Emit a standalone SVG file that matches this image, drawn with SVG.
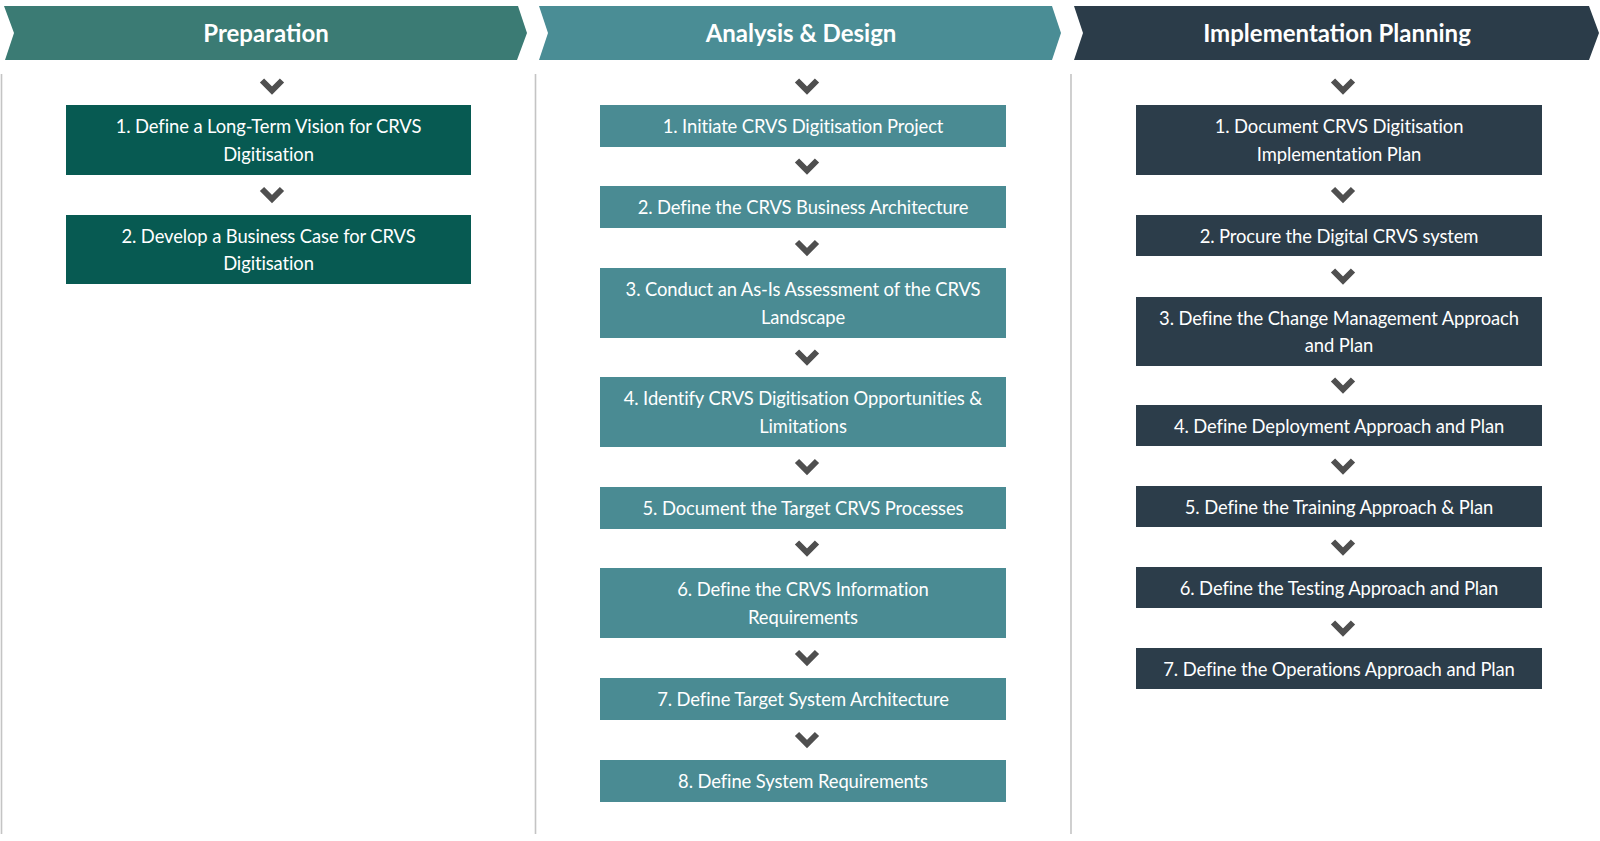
<svg xmlns="http://www.w3.org/2000/svg" width="1600" height="841" viewBox="0 0 1600 841">
<style>
.hd{font-family:Lato,"Open Sans","Noto Sans",sans-serif;font-weight:700;font-size:24px;fill:#ffffff;text-anchor:middle}
.tx{font-family:Lato,"Open Sans","Noto Sans",sans-serif;font-size:18.4px;letter-spacing:-0.1px;fill:#ffffff;text-anchor:middle}
.p{fill:#075a52}
.a{fill:#4a8b93}
.i{fill:#2c3d4a}
.vl{stroke:#c4c4c4;stroke-width:1.6;fill:none}
</style>
<defs>
<polyline id="chev" points="-10,-5 0,5 10,-5" fill="none" stroke="#4f4f4f" stroke-width="6" stroke-linejoin="miter"/>
</defs>
<rect width="1600" height="841" fill="#ffffff"/>

<g id="column-lines">
<line class="vl" x1="1.5" y1="74" x2="1.5" y2="834"/>
<line class="vl" x1="535.5" y1="74" x2="535.5" y2="834"/>
<line class="vl" x1="1071" y1="74" x2="1071" y2="834"/>
</g>

<g id="header-preparation">
<polygon points="4,6 518,6 527,33 517,60 5,60 14,33" fill="#3b7b74"/>
<text class="hd" x="266" y="42">Preparation</text>
</g>
<g id="header-analysis">
<polygon points="539,6 1052,6 1061,33 1052,60 539,60 548,33" fill="#4a8d95"/>
<text class="hd" x="801" y="42">Analysis &amp; Design</text>
</g>
<g id="header-implementation">
<polygon points="1074,6 1589,6 1599,33 1589,60 1074,60 1083,33" fill="#2b3c49"/>
<text class="hd" x="1337" y="42">Implementation Planning</text>
</g>

<g id="connectors">
<use href="#chev" x="272" y="85.5"/>
<use href="#chev" x="272" y="194"/>

<use href="#chev" x="807" y="85.5"/>
<use href="#chev" x="807" y="165.5"/>
<use href="#chev" x="807" y="247"/>
<use href="#chev" x="807" y="356.5"/>
<use href="#chev" x="807" y="466"/>
<use href="#chev" x="807" y="547.5"/>
<use href="#chev" x="807" y="657"/>
<use href="#chev" x="807" y="739"/>

<use href="#chev" x="1343" y="85.5"/>
<use href="#chev" x="1343" y="194"/>
<use href="#chev" x="1343" y="275.5"/>
<use href="#chev" x="1343" y="384.5"/>
<use href="#chev" x="1343" y="465.5"/>
<use href="#chev" x="1343" y="546.5"/>
<use href="#chev" x="1343" y="627.5"/>
</g>

<g id="prep-1"><rect class="p" x="66" y="105" width="405" height="70"/>
<text class="tx" x="268.5" y="133.1">1. Define a Long-Term Vision for CRVS</text>
<text class="tx" x="268.5" y="160.6">Digitisation</text></g>
<g id="prep-2"><rect class="p" x="66" y="215" width="405" height="69"/>
<text class="tx" x="268.5" y="242.6">2. Develop a Business Case for CRVS</text>
<text class="tx" x="268.5" y="270.1">Digitisation</text></g>

<g id="ad-1"><rect class="a" x="600" y="105" width="406" height="42"/>
<text class="tx" x="803" y="133">1. Initiate CRVS Digitisation Project</text></g>
<g id="ad-2"><rect class="a" x="600" y="186" width="406" height="42"/>
<text class="tx" x="803" y="214">2. Define the CRVS Business Architecture</text></g>
<g id="ad-3"><rect class="a" x="600" y="268" width="406" height="70"/>
<text class="tx" x="803" y="296.1">3. Conduct an As-Is Assessment of the CRVS</text>
<text class="tx" x="803" y="323.6">Landscape</text></g>
<g id="ad-4"><rect class="a" x="600" y="377" width="406" height="70"/>
<text class="tx" x="803" y="405.1">4. Identify CRVS Digitisation Opportunities &amp;</text>
<text class="tx" x="803" y="432.6">Limitations</text></g>
<g id="ad-5"><rect class="a" x="600" y="487" width="406" height="42"/>
<text class="tx" x="803" y="515">5. Document the Target CRVS Processes</text></g>
<g id="ad-6"><rect class="a" x="600" y="568" width="406" height="70"/>
<text class="tx" x="803" y="596.1">6. Define the CRVS Information</text>
<text class="tx" x="803" y="623.6">Requirements</text></g>
<g id="ad-7"><rect class="a" x="600" y="678" width="406" height="42"/>
<text class="tx" x="803" y="706">7. Define Target System Architecture</text></g>
<g id="ad-8"><rect class="a" x="600" y="760" width="406" height="42"/>
<text class="tx" x="803" y="788">8. Define System Requirements</text></g>

<g id="ip-1"><rect class="i" x="1136" y="105" width="406" height="70"/>
<text class="tx" x="1339" y="133.1">1. Document CRVS Digitisation</text>
<text class="tx" x="1339" y="160.6">Implementation Plan</text></g>
<g id="ip-2"><rect class="i" x="1136" y="215" width="406" height="41"/>
<text class="tx" x="1339" y="242.5">2. Procure the Digital CRVS system</text></g>
<g id="ip-3"><rect class="i" x="1136" y="297" width="406" height="69"/>
<text class="tx" x="1339" y="324.6">3. Define the Change Management Approach</text>
<text class="tx" x="1339" y="352.1">and Plan</text></g>
<g id="ip-4"><rect class="i" x="1136" y="405" width="406" height="41"/>
<text class="tx" x="1339" y="432.5">4. Define Deployment Approach and Plan</text></g>
<g id="ip-5"><rect class="i" x="1136" y="486" width="406" height="41"/>
<text class="tx" x="1339" y="513.5">5. Define the Training Approach &amp; Plan</text></g>
<g id="ip-6"><rect class="i" x="1136" y="567" width="406" height="41"/>
<text class="tx" x="1339" y="594.5">6. Define the Testing Approach and Plan</text></g>
<g id="ip-7"><rect class="i" x="1136" y="648" width="406" height="41"/>
<text class="tx" x="1339" y="675.5">7. Define the Operations Approach and Plan</text></g>
</svg>
